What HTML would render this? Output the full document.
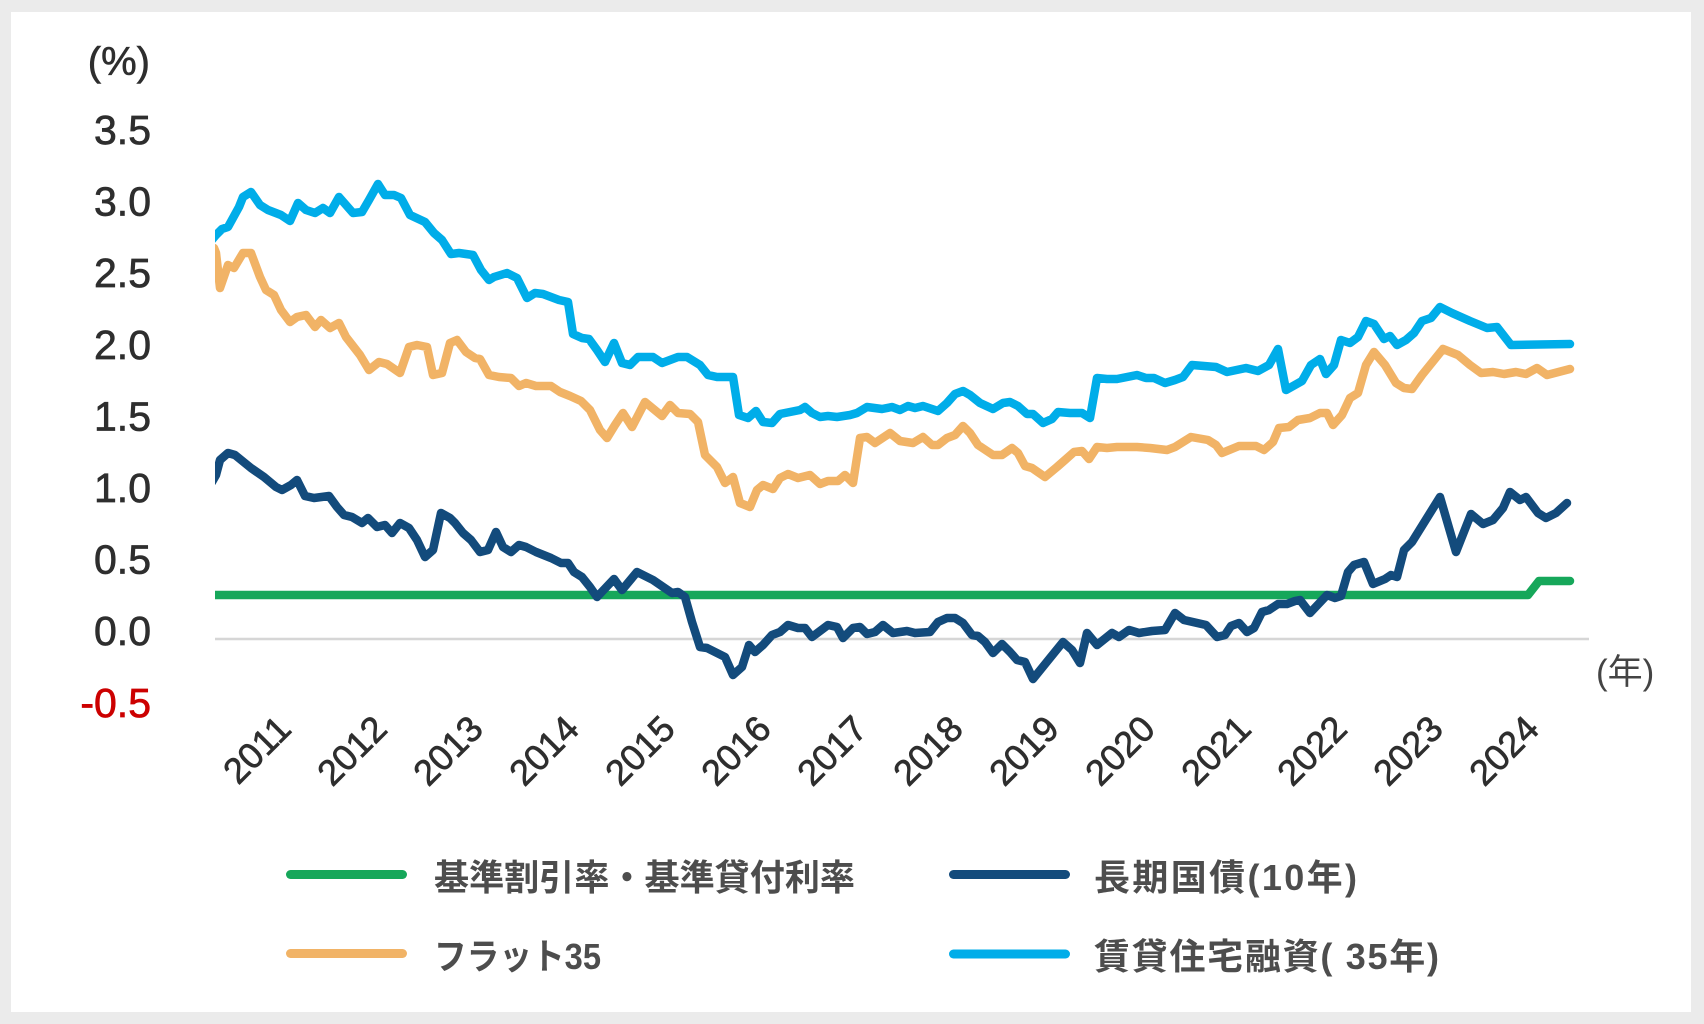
<!DOCTYPE html>
<html><head><meta charset="utf-8"><style>
html,body{margin:0;padding:0;background:#ebebeb;}
svg{display:block;}
</style></head><body>
<svg width="1704" height="1024" viewBox="0 0 1704 1024" xmlns="http://www.w3.org/2000/svg">
<rect x="0" y="0" width="1704" height="1024" fill="#ebebeb"/>
<rect x="11" y="12" width="1680" height="1000" fill="#ffffff"/>
<defs><clipPath id="pc"><rect x="215" y="100" width="1420" height="620"/></clipPath></defs>

<!-- (%) -->
<text x="150" y="75" text-anchor="end" font-family="Liberation Sans, sans-serif" font-size="40" fill="#2e2e2e" stroke="#2e2e2e" stroke-width="0.6">(%)</text>

<!-- y labels -->
<g font-family="Liberation Sans, sans-serif" font-size="41" fill="#2e2e2e" stroke="#2e2e2e" stroke-width="0.7" text-anchor="end">
<text x="151" y="144">3.5</text>
<text x="151" y="215.6">3.0</text>
<text x="151" y="287.2">2.5</text>
<text x="151" y="358.8">2.0</text>
<text x="151" y="430.4">1.5</text>
<text x="151" y="502">1.0</text>
<text x="151" y="573.6">0.5</text>
<text x="151" y="645.2">0.0</text>
<text x="151" y="716.8" fill="#cc0000" stroke="#cc0000">-0.5</text>
</g>

<!-- zero line -->
<line x1="215" y1="639" x2="1589" y2="639" stroke="#d6d6d6" stroke-width="2.5"/>

<!-- (年) -->
<text x="1596" y="684" font-family="Liberation Sans, 'Noto Sans CJK JP', sans-serif" font-size="35" fill="#444">(年)</text>

<!-- x labels -->
<g font-family="Liberation Sans, sans-serif" font-size="36" fill="#2e2e2e" stroke="#2e2e2e" stroke-width="0.7" text-anchor="end">
<text transform="translate(293,731) rotate(-45)">2011</text>
<text transform="translate(389,731) rotate(-45)">2012</text>
<text transform="translate(485,731) rotate(-45)">2013</text>
<text transform="translate(581,731) rotate(-45)">2014</text>
<text transform="translate(677,731) rotate(-45)">2015</text>
<text transform="translate(773,731) rotate(-45)">2016</text>
<text transform="translate(869,731) rotate(-45)">2017</text>
<text transform="translate(965,731) rotate(-45)">2018</text>
<text transform="translate(1061,731) rotate(-45)">2019</text>
<text transform="translate(1157,731) rotate(-45)">2020</text>
<text transform="translate(1253,731) rotate(-45)">2021</text>
<text transform="translate(1349,731) rotate(-45)">2022</text>
<text transform="translate(1445,731) rotate(-45)">2023</text>
<text transform="translate(1541,731) rotate(-45)">2024</text>
</g>

<g clip-path="url(#pc)" fill="none" stroke-width="8.5" stroke-linejoin="round" stroke-linecap="round">
<!-- green -->
<polyline stroke="#16a75a" points="205,595 1528,595 1539,581 1570,581"/>
<!-- navy -->
<polyline stroke="#134b7c" points="212,482 216,475 220,460 228,453 235,455 251,468 264,477 276,487 282,490 291,485 297,480 305,496 314,498 329,496 337,507 344,515 352,517 362,523 368,518 377,527 385,525 392,533 400,523 409,528 417,540 425,557 433,550 441,513 450,518 455,523 463,533 471,540 480,552 488,550 496,532 503,547 511,552 519,545 526,547 536,552 551,558 561,563 568,563 574,572 582,577 590,587 597,597 614,579 622,590 637,572 645,576 653,580 672,593 678,592 685,597 692,622 700,647 707,648 717,653 725,657 733,675 742,667 749,645 755,652 763,645 772,635 780,632 788,625 798,628 805,628 812,637 828,625 837,627 843,638 853,628 860,627 867,634 875,632 883,625 893,633 907,631 915,633 930,632 938,622 947,618 955,618 963,623 972,635 978,636 985,642 993,653 1002,644 1010,652 1017,660 1025,662 1033,679 1050,658 1063,642 1072,650 1080,663 1087,633 1097,645 1112,633 1119,637 1129,630 1139,633 1152,631 1165,630 1175,613 1184,620 1206,625 1217,637 1225,635 1231,626 1239,623 1247,632 1254,628 1262,612 1269,610 1278,604 1287,604 1295,601 1300,600 1310,613 1327,595 1335,598 1341,596 1348,572 1354,565 1364,562 1373,584 1385,579 1391,575 1397,577 1404,550 1412,542 1440,497 1456,552 1471,514 1483,524 1493,520 1503,508 1510,492 1520,500 1526,497 1538,513 1546,518 1556,513 1567,503"/>
<!-- orange -->
<polyline stroke="#f1b366" points="214,248 216,253 220,288 228,265 234,268 243,253 251,253 260,277 266,290 274,295 281,310 290,322 297,317 306,315 315,327 321,320 330,328 339,323 346,337 360,355 369,370 379,362 387,364 400,373 409,347 417,345 427,347 433,375 442,373 450,343 457,340 466,352 475,358 480,359 489,375 499,377 511,378 519,386 526,383 536,386 551,386 560,392 570,396 581,401 590,410 600,430 607,438 615,425 623,413 632,427 645,402 662,416 670,405 678,413 690,414 698,422 705,455 710,460 717,467 725,483 733,477 740,503 750,507 757,490 763,485 773,489 780,478 788,474 798,478 810,475 820,484 828,481 838,481 845,475 853,483 860,438 867,437 875,443 890,433 900,441 913,443 923,437 932,445 938,445 947,438 955,435 963,426 970,433 978,445 993,455 1002,455 1012,448 1018,453 1025,466 1032,468 1045,477 1057,467 1065,460 1074,452 1082,451 1089,459 1097,447 1107,448 1117,447 1137,447 1150,448 1167,450 1175,447 1191,437 1208,440 1216,445 1222,453 1239,446 1256,446 1264,450 1273,442 1279,428 1289,427 1298,420 1310,418 1320,413 1327,413 1333,425 1342,415 1350,398 1358,393 1366,365 1374,352 1385,365 1396,383 1404,388 1412,389 1422,375 1443,349 1458,355 1470,365 1481,373 1493,372 1504,374 1516,372 1526,374 1537,368 1547,375 1570,369"/>
<!-- cyan -->
<polyline stroke="#00ade9" points="210,242 216,235 222,229 228,227 239,207 243,197 251,192 260,205 268,210 281,215 290,221 298,203 306,210 315,213 323,208 330,213 339,197 353,213 362,212 369,200 378,184 385,195 394,195 401,198 410,215 425,222 434,233 442,240 451,254 459,253 473,255 481,270 489,280 494,277 507,273 517,278 527,298 535,293 543,294 559,300 568,302 573,334 582,338 589,339 597,350 605,362 614,343 622,363 630,365 638,357 653,357 662,363 678,357 687,357 700,365 708,375 717,377 733,377 739,415 748,418 756,411 763,422 772,423 780,414 800,410 805,407 812,413 820,417 828,416 837,417 850,415 857,413 867,407 882,409 892,407 900,410 908,406 915,408 923,406 938,411 947,403 955,394 963,391 970,395 980,403 993,409 1003,403 1010,402 1018,406 1027,414 1033,414 1043,423 1052,419 1058,412 1070,413 1082,413 1090,418 1097,378 1107,379 1117,379 1137,375 1146,378 1154,378 1165,383 1175,380 1183,377 1192,365 1216,367 1227,372 1246,368 1258,371 1269,365 1278,349 1286,390 1302,381 1311,365 1320,359 1326,374 1334,365 1341,340 1350,343 1358,337 1366,321 1374,324 1384,339 1390,336 1397,345 1406,340 1414,333 1422,321 1431,318 1440,307 1452,313 1470,321 1487,328 1497,327 1511,345 1570,344"/>
</g>

<!-- legend -->
<g stroke-width="9" stroke-linecap="round">
<line x1="290.5" y1="874.5" x2="402.5" y2="874.5" stroke="#16a75a"/>
<line x1="953.5" y1="874.5" x2="1065.5" y2="874.5" stroke="#134b7c"/>
<line x1="290.5" y1="953.5" x2="402.5" y2="953.5" stroke="#f1b366"/>
<line x1="953.5" y1="954" x2="1065.5" y2="954" stroke="#00ade9"/>
</g>
<g font-family="Liberation Sans, 'Noto Sans CJK JP', sans-serif" font-size="36" font-weight="bold" fill="#4d4d4d">
<text x="434" y="890" textLength="421" lengthAdjust="spacingAndGlyphs">基準割引率・基準貸付利率</text>
<text x="1094" y="890" textLength="263" lengthAdjust="spacing">長期国債(10年)</text>
<text x="434" y="969" textLength="167" lengthAdjust="spacingAndGlyphs">フラット35</text>
<text x="1094" y="969" textLength="345" lengthAdjust="spacing">賃貸住宅融資( 35年)</text>
</g>
</svg>
</body></html>
